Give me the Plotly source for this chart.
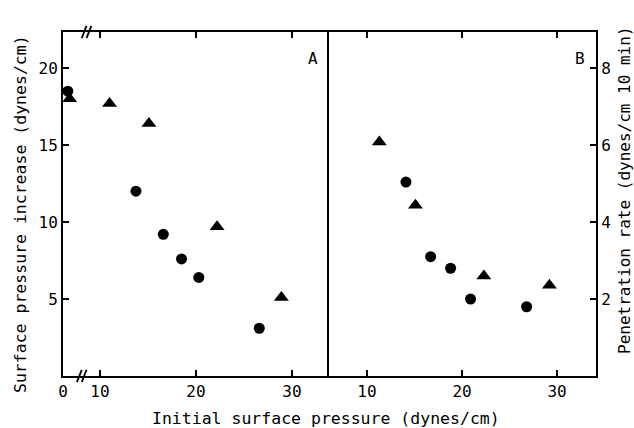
import plotly.graph_objects as go

# ---- data ----
# Panel A: surface pressure increase (dynes/cm) vs initial surface pressure
a_circ_x = [1.3, 13.75, 16.6, 18.5, 20.3, 26.6]
a_circ_y = [18.5, 12.0, 9.2, 7.6, 6.4, 3.1]
a_tri_x = [1.8, 11.0, 15.1, 22.2, 28.9]
a_tri_y = [18.0, 17.7, 16.4, 9.7, 5.1]

# Panel B: penetration rate (dynes/cm 10 min) vs initial surface pressure
b_circ_x = [14.1, 16.7, 18.8, 20.9, 26.8]
b_circ_y = [5.04, 3.1, 2.8, 2.0, 1.8]
b_tri_x = [11.3, 15.1, 22.3, 29.2]
b_tri_y = [6.08, 4.44, 2.6, 2.36]

x_ticks = [0, 10, 20, 30]
x_ticks_b = [10, 20, 30]
y_ticks_a = [5, 10, 15, 20]
y_ticks_b = [2, 4, 6, 8]

# broken x axis in panel A: 0..10 compressed into a short segment
BREAK_LO = 6.15


def disp_x(v):
    return v if v >= 10 else BREAK_LO + v * (10 - BREAK_LO) / 10


FONT = "DejaVu Sans Mono"
W, H = 634, 428
ML, MR, MT, MB = 63, 38, 32, 52
PW, PH = W - ML - MR, H - MT - MB


def px_x(px):
    return (px - ML) / PW


def px_y(py):
    return (H - MB - py) / PH


fig = go.Figure()

mk_c = dict(symbol="circle", size=11, color="black")
mk_t = dict(symbol="triangle-up", size=13, color="black")

fig.add_trace(go.Scatter(x=[disp_x(v) for v in a_circ_x], y=a_circ_y, mode="markers",
                         marker=mk_c, xaxis="x", yaxis="y", showlegend=False))
fig.add_trace(go.Scatter(x=[disp_x(v) for v in a_tri_x], y=a_tri_y, mode="markers",
                         marker=mk_t, xaxis="x", yaxis="y", showlegend=False))
fig.add_trace(go.Scatter(x=b_circ_x, y=b_circ_y, mode="markers",
                         marker=mk_c, xaxis="x2", yaxis="y2", showlegend=False))
fig.add_trace(go.Scatter(x=b_tri_x, y=b_tri_y, mode="markers",
                         marker=mk_t, xaxis="x2", yaxis="y2", showlegend=False))

axis_common = dict(showgrid=False, zeroline=False, showline=True, linecolor="black",
                   linewidth=2, ticks="inside", ticklen=6, tickwidth=1.5,
                   tickcolor="black", tickfont=dict(family=FONT, size=16, color="black"))

fig.update_layout(
    width=W, height=H,
    margin=dict(l=ML, r=MR, t=MT, b=MB, autoexpand=False),
    paper_bgcolor="white", plot_bgcolor="white",
    xaxis=dict(domain=[0, 0.499], range=[BREAK_LO, 33.86], anchor="y",
               tickvals=[disp_x(v) for v in x_ticks], ticktext=[str(v) for v in x_ticks],
               mirror="ticks", **axis_common),
    yaxis=dict(domain=[0, 1], range=[0, 22.34], anchor="x",
               tickvals=y_ticks_a, ticktext=[str(v) for v in y_ticks_a],
               mirror=False, **axis_common),
    xaxis2=dict(domain=[0.499, 1], range=[6.0, 34.1], anchor="y2",
                tickvals=x_ticks_b, ticktext=[str(v) for v in x_ticks_b],
                mirror="ticks", **axis_common),
    yaxis2=dict(domain=[0, 1], range=[0, 8.94], anchor="x2", side="right",
                tickvals=y_ticks_b, ticktext=[str(v) for v in y_ticks_b],
                mirror=True, **axis_common),
)

# axis break marks "//" on panel A's top and bottom axes
for x0, ydom in [(8.1, 1.0), (8.6, 1.0), (7.6, 0.0), (8.1, 0.0)]:
    fig.add_shape(type="line", xref="x", yref="y domain",
                  x0=x0, x1=x0 + 0.5, y0=ydom - 0.018, y1=ydom + 0.018,
                  line=dict(color="black", width=1.8))

txt = dict(family=FONT, size=16, color="black")
fig.add_annotation(text="A", x=32.2, y=0.956, xref="x", yref="y domain",
                   showarrow=False, font=txt)
fig.add_annotation(text="B", x=32.4, y=0.956, xref="x2", yref="y2 domain",
                   showarrow=False, font=txt)

title_font = dict(family=FONT, size=16.5, color="black")
fig.add_annotation(text="Initial surface pressure (dynes/cm)", x=px_x(326), y=px_y(418),
                   xref="paper", yref="paper", showarrow=False, font=title_font,
                   xanchor="center", yanchor="middle")
fig.add_annotation(text="Surface pressure increase (dynes/cm)", x=px_x(20), y=px_y(214),
                   xref="paper", yref="paper", showarrow=False, textangle=-90,
                   font=title_font, xanchor="center", yanchor="middle")
fig.add_annotation(text="Penetration rate (dynes/cm 10 min)", x=px_x(624), y=px_y(190),
                   xref="paper", yref="paper", showarrow=False, textangle=-90,
                   font=dict(family=FONT, size=16, color="black"), xanchor="center", yanchor="middle")

fig.write_html("out.html", post_script="document.body.style.margin='0';",
               config={"displayModeBar": False})
